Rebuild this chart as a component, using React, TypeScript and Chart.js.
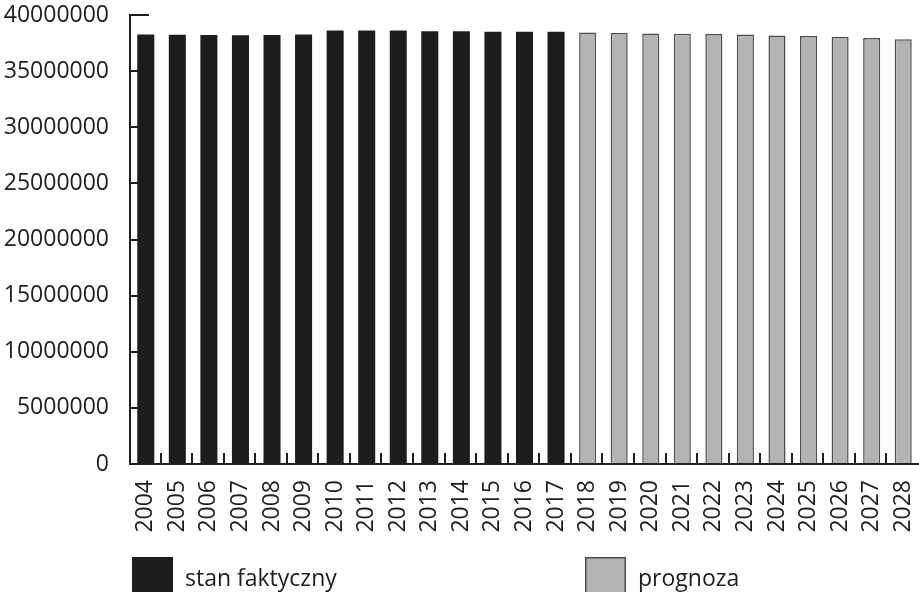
import React, { useEffect, useRef } from "react";
import { Chart, registerables } from "chart.js";

Chart.register(...registerables);

// Population of Poland: observed values and forecast
const years = [
  "2004", "2005", "2006", "2007", "2008", "2009", "2010", "2011", "2012",
  "2013", "2014", "2015", "2016", "2017", "2018", "2019", "2020", "2021",
  "2022", "2023", "2024", "2025", "2026", "2027", "2028",
];

const actual = [
  38260000, 38230000, 38210000, 38190000, 38210000, 38260000, 38620000,
  38620000, 38620000, 38560000, 38560000, 38500000, 38500000, 38500000,
  null, null, null, null, null, null, null, null, null, null, null,
];

const forecast = [
  null, null, null, null, null, null, null, null, null, null, null, null,
  null, null,
  38440000, 38390000, 38360000, 38330000, 38300000, 38270000, 38180000,
  38120000, 38030000, 37940000, 37850000,
];

const yTicks = [0, 5000000, 10000000, 15000000, 20000000, 25000000, 30000000, 35000000, 40000000];

const seriesLabels = ["stan faktyczny", "prognoza"];

const INK = "#1d1d1b";
const GREY = "#b3b3b3";
const GREY_EDGE = "#4d4d4d";
const FONT = "'Open Sans', sans-serif";

// Axis lines and inward-pointing ticks (y ticks sit underneath the bars)
const axesUnder = {
  id: "axesUnder",
  beforeDatasetsDraw(chart: any) {
    const { ctx, chartArea, scales } = chart;
    const y = scales.y;
    const x = scales.x;
    ctx.save();
    ctx.strokeStyle = INK;
    ctx.lineWidth = 2;
    ctx.beginPath();
    for (const v of yTicks) {
      const py = Math.round(y.getPixelForValue(v));
      ctx.moveTo(chartArea.left, py);
      ctx.lineTo(chartArea.left + 19, py);
    }
    for (let i = 1; i < years.length; i++) {
      const px = Math.round((x.getPixelForValue(i - 1) + x.getPixelForValue(i)) / 2) - 1;
      ctx.moveTo(px, chartArea.bottom);
      ctx.lineTo(px, chartArea.bottom - 11);
    }
    ctx.stroke();
    ctx.restore();
  },
  afterDatasetsDraw(chart: any) {
    const { ctx, chartArea } = chart;
    ctx.save();
    ctx.strokeStyle = INK;
    ctx.lineWidth = 2;
    ctx.beginPath();
    ctx.moveTo(chartArea.left, chartArea.top - 1);
    ctx.lineTo(chartArea.left, chartArea.bottom);
    ctx.lineTo(chartArea.right, chartArea.bottom);
    ctx.stroke();
    ctx.restore();
  },
};

// Legend with large square swatches under the axis labels
const squareLegend = {
  id: "squareLegend",
  afterDraw(chart: any) {
    const { ctx } = chart;
    const spots = [132, 585];
    ctx.save();
    ctx.font = `23px ${FONT}`;
    ctx.textBaseline = "alphabetic";
    ctx.textAlign = "left";
    chart.data.datasets.forEach((ds: any, i: number) => {
      const bx = spots[i];
      const by = 557;
      ctx.fillStyle = ds.backgroundColor;
      ctx.fillRect(bx, by, 41, 41);
      if (ds.borderWidth) {
        ctx.strokeStyle = ds.borderColor;
        ctx.lineWidth = 1.5;
        ctx.strokeRect(bx + 0.75, by + 0.75, 39.5, 39.5);
      }
      ctx.fillStyle = INK;
      ctx.fillText(ds.label, bx + 53, 586);
    });
    ctx.restore();
  },
};

export default function App() {
  const ref = useRef<HTMLCanvasElement>(null);

  useEffect(() => {
    if (!ref.current) return;
    const chart = new Chart(ref.current, {
      type: "bar",
      data: {
        labels: years,
        datasets: [
          {
            label: seriesLabels[0],
            data: actual,
            backgroundColor: INK,
            borderWidth: 0,
            barPercentage: 0.54,
            categoryPercentage: 1,
          },
          {
            label: seriesLabels[1],
            data: forecast,
            backgroundColor: GREY,
            borderColor: GREY_EDGE,
            borderWidth: 1.5,
            barPercentage: 0.54,
            categoryPercentage: 1,
          },
        ],
      },
      options: {
        responsive: true,
        maintainAspectRatio: false,
        animation: false,
        layout: { padding: { top: 15, left: 0, right: 0, bottom: 0 } },
        plugins: {
          legend: { display: false },
          tooltip: { enabled: false },
        },
        scales: {
          x: {
            stacked: true,
            grid: { display: false },
            border: { display: false },
            ticks: {
              autoSkip: false,
              minRotation: 90,
              maxRotation: 90,
              padding: 8,
              color: INK,
              font: { family: FONT, size: 23 },
            },
            afterFit: (s: any) => {
              s.height = 128;
              s.paddingLeft = 0;
              s.paddingRight = 0;
            },
          },
          y: {
            stacked: true,
            min: 0,
            max: 40000000,
            grid: { display: false },
            border: { display: false },
            afterBuildTicks: (s: any) => {
              s.ticks = yTicks.map((v) => ({ value: v }));
            },
            ticks: {
              padding: 13,
              color: INK,
              font: { family: FONT, size: 23 },
              callback: (v: any) => String(v),
            },
            afterFit: (s: any) => {
              s.width = 130;
              s.paddingTop = 0;
              s.paddingBottom = 0;
            },
          },
        },
      },
      plugins: [axesUnder, squareLegend],
    });
    return () => chart.destroy();
  }, []);

  return (
    <div style={{ position: "fixed", left: 0, top: 0, width: 919, height: 592, background: "#fff" }}>
      <canvas ref={ref} />
    </div>
  );
}
